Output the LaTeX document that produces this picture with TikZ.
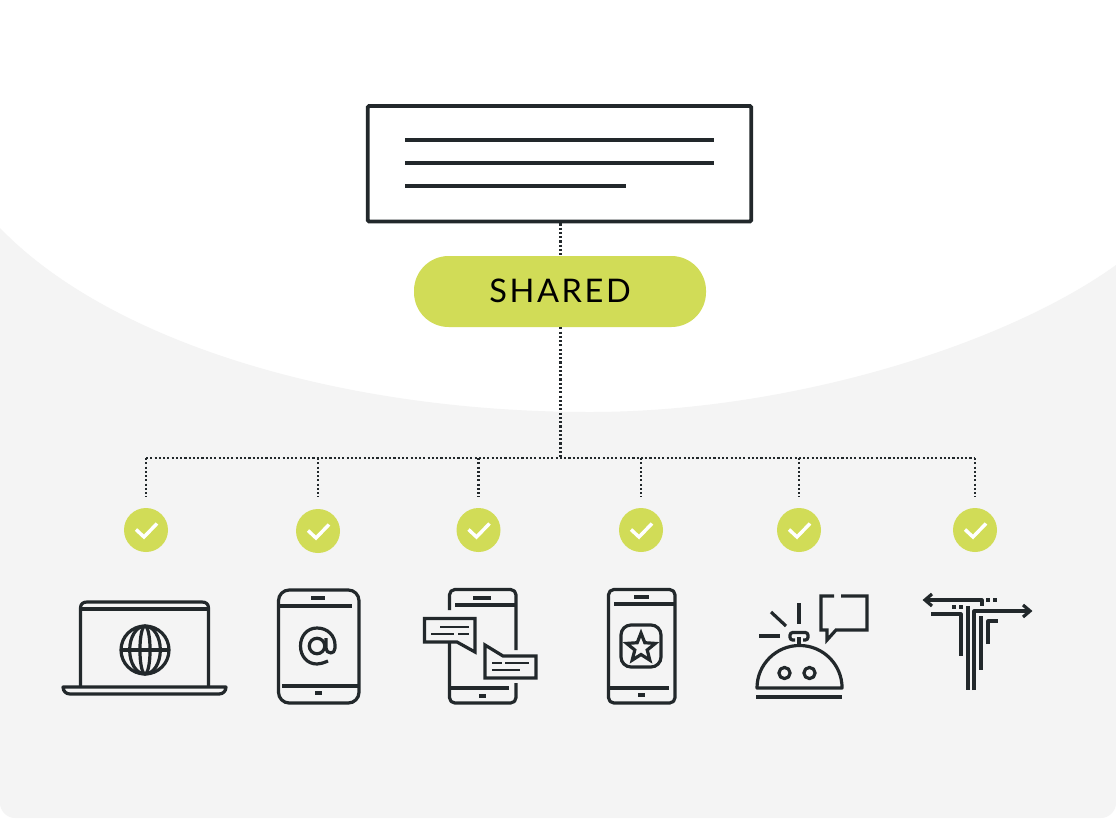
\documentclass[tikz,border=0pt]{standalone}
\usepackage{fontspec}
\setmainfont{Lato}[LetterSpace=8]
\definecolor{ink}{HTML}{22282B}
\definecolor{lime}{HTML}{D1DC57}
\definecolor{panel}{HTML}{F4F4F4}
\tikzset{
  ico/.style={draw=ink,line width=2.4pt,line join=round},
  thin ico/.style={draw=ink,line width=2.2pt},
  dots/.style={draw=ink,line width=1.7pt,dash pattern=on 1.6pt off 1.6pt},
  textbox/.style={draw=ink,line width=2.9pt,rounded corners=1pt,minimum width=287.6pt,minimum height=86.6pt,inner sep=0pt},
  pill/.style={fill=lime,rounded corners=26pt,minimum width=219pt,minimum height=53.25pt,inner sep=0pt,font=\fontsize{24.4pt}{28pt}\selectfont,text=black},
  okdot/.style={circle,fill=lime,minimum size=33pt,inner sep=0pt},
  tick/.style={draw=white,line width=2.6pt,line join=miter},
  bar/.style={draw=ink,line width=3pt}
}
\begin{document}
\begin{tikzpicture}[x=0.75pt,y=-0.75pt]
\useasboundingbox (0,0) rectangle (1116,818);
% background
\fill[white] (0,0) rectangle (1116,818);
\fill[panel] (0,228) .. controls (110,342) and (340,412) .. (590,412)
  .. controls (790,412) and (1005,345) .. (1116,265)
  -- (1116,803) .. controls (1116,811) and (1109,818) .. (1101,818)
  -- (15,818) .. controls (7,818) and (0,811) .. (0,803) -- cycle;
% top text box
\node[textbox] (box) at (559.5,163.7) {};
\draw[bar] (405,139.5) -- (714,139.5);
\draw[bar] (405,162.5) -- (714,162.5);
\draw[bar] (405,185.5) -- (626,185.5);
% pill
\node[pill] (shared) at (560,291.5) {\raisebox{1.1pt}{SHARED}};
% connectors
\coordinate (hub) at (560.5,458);
\coordinate (hl) at (146,458);
\coordinate (hr) at (975,458);
\foreach \n/\x/\y in {a/146/530,b/318/531,c/478.5/530,d/641/530,e/799/530,f/975/530}{
  \node[okdot] (ok\n) at (\x,\y) {};
  \draw[tick] (\x-10,\y-0.5) -- (\x-2,\y+7) -- (\x+11,\y-6.5);
  \coordinate (top\n) at (\x,458);
  \coordinate (end\n) at (\x,497);
  \draw[dots] (top\n) -- (end\n);
}
\draw[dots] (box.south -| hub) -- (shared.north -| hub);
\draw[dots] (shared.south -| hub) -- (hub);
\draw[dots] (hl) -- (hr);
% laptop
\draw[ico] (80.5,687) -- (80.5,608) .. controls (80.5,604) and (83,602) .. (87,602) -- (202,602) .. controls (206,602) and (208.5,604) .. (208.5,608) -- (208.5,687);
\draw[ico] (80.5,609) -- (208.5,609);
\draw[ico] (63,687) -- (226,687) .. controls (226,691) and (223,694) .. (219,694) -- (70,694) .. controls (66,694) and (63,691) .. (63,687) -- cycle;
\draw[ico] (145,650) circle[radius=18pt];
\draw[ico] (145,650) ellipse[x radius=11.5pt,y radius=18pt];
\draw[ico] (145,650) ellipse[x radius=3.8pt,y radius=18pt];
\draw[ico] (121,650) -- (169,650);
% tablet @
\draw[ico,rounded corners=8pt] (278.5,590) rectangle (359,703);
\draw[ico] (278.5,606) -- (352,606);
\draw[ico] (282,686) -- (359,686);
\draw[ico] (311,598) -- (325,598);
\draw[ico] (315,693) -- (322,693);
\draw[ico] (317,646) circle[radius=5.8pt];
\draw[ico] (328,661) .. controls (323,663) and (320,664) .. (317,664) .. controls (307,664) and (300.5,656) .. (300.5,646) .. controls (300.5,636) and (307,628) .. (317,628) .. controls (328,628) and (335,636) .. (335,645) -- (335,648) .. controls (335,651) and (333,653) .. (331,653) .. controls (328,653) and (326,651) .. (326,648) -- (326,638);
% phone with bubbles
\draw[ico,rounded corners=4pt] (449.5,610) -- (449.5,589.5) -- (516,589.5) -- (516,650);
\draw[ico,rounded corners=4pt] (449.5,642) -- (449.5,703) -- (516,703) -- (516,683);
\draw[ico] (455,605) -- (516,605);
\draw[ico] (449.5,688) -- (509,688);
\draw[ico] (473,598) -- (491,598);
\draw[ico] (479,696) -- (486,696);
\draw[ico,line join=miter] (424.5,618.5) -- (475,618.5) -- (475,652) -- (457,642) -- (424.5,642) -- cycle;
\draw[thin ico] (440,627) -- (469,627);
\draw[thin ico] (431,634) -- (454,634);
\draw[thin ico] (458,634) -- (469,634);
\draw[ico,line join=miter] (485,645) -- (503,656) -- (536,656) -- (536,678) -- (485,678) -- cycle;
\draw[thin ico] (492,663) -- (502,663);
\draw[thin ico] (505,663) -- (529,663);
\draw[thin ico] (492,670) -- (520,670);
% phone with star
\draw[ico,rounded corners=4pt] (608.5,589.5) rectangle (675,703);
\draw[ico] (614,604) -- (675,604);
\draw[ico] (608.5,688) -- (669,688);
\draw[ico] (634,597) -- (649,597);
\draw[ico] (638,695) -- (645,695);
\draw[ico,rounded corners=7.5pt] (621,625) rectangle (661,667);
\draw[ico,line join=miter] (641,633) -- (644.8,642.7) -- (655.3,643.4) -- (647.2,650) -- (649.8,660.1) -- (641,654.5) -- (632.2,660.1) -- (634.8,650) -- (626.7,643.4) -- (637.2,642.7) -- cycle;
% bell
\draw[ico] (757,688) arc[start angle=180,end angle=0,radius=31.9pt] -- cycle;
\draw[ico] (756,697) -- (842,697);
\draw[ico] (784.5,673) circle[radius=4.2pt];
\draw[ico] (809.5,673) circle[radius=4.2pt];
\draw[ico] (799,646) -- (799,637);
\draw[ico,rounded corners=2pt] (795,640) -- (790,640) -- (790,632.5) -- (808,632.5) -- (808,640) -- (803,640);
\draw[ico] (799,603) -- (799,624);
\draw[ico] (771,612) -- (786,626);
\draw[ico] (759,636) -- (780,636);
\draw[ico,line join=miter] (834,596) -- (821,596) -- (821,630) -- (827,630) -- (827,640) -- (836,630) -- (867,630) -- (867,596) -- (841,596);
% arrows
\draw[ico,line join=miter] (932,594) -- (925,600) -- (932,606);
\draw[ico] (925,600) -- (982,600) -- (982,605.5);
\draw[ico] (986,600) -- (990,600);
\draw[ico] (993,600) -- (997,600);
\draw[ico] (968,606) -- (968,690);
\draw[ico] (974,690) -- (974,611) -- (1030,611);
\draw[ico,line join=miter] (1023,605) -- (1030,611) -- (1023,617);
\draw[ico] (981,616) -- (981,670);
\draw[ico] (988,644) -- (988,621) -- (998,621);
\draw[ico] (931,614) -- (961,614) -- (961,656);
\draw[ico] (952,607) -- (956,607);
\draw[ico] (959,607) -- (963,607);
\end{tikzpicture}
\end{document}
